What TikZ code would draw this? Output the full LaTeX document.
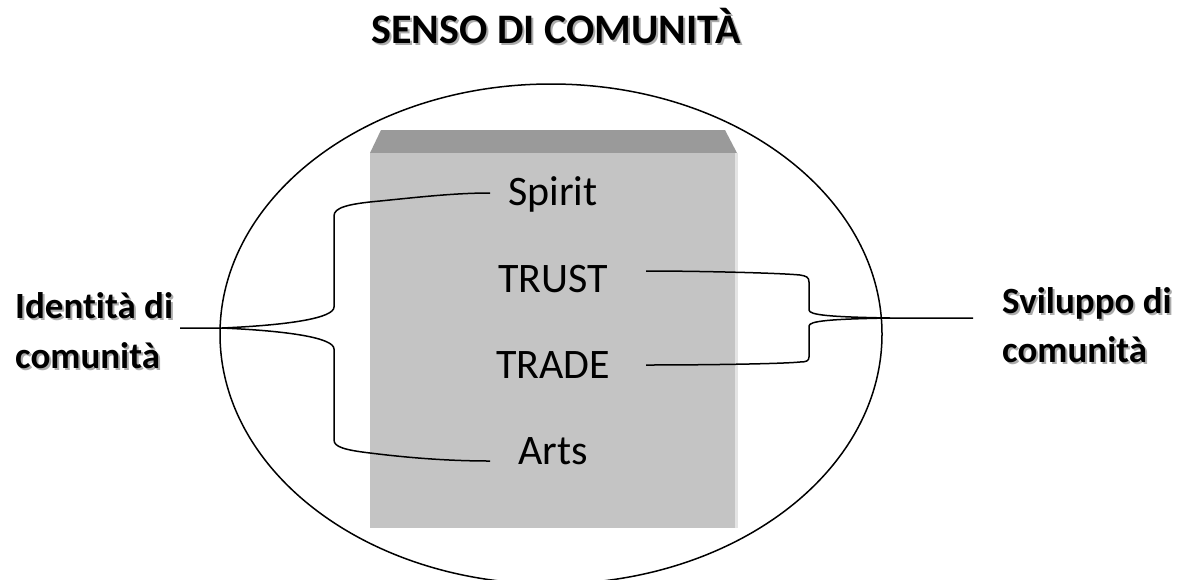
\documentclass[tikz,border=0pt]{standalone}
\usepackage{fontspec}
\setmainfont{Carlito}[Ligatures=NoCommon]
\definecolor{boxfill}{HTML}{C4C4C4}
\definecolor{boxtop}{HTML}{9A9A9A}
\definecolor{boxedge}{HTML}{E4E4E4}
\definecolor{shadowgray}{HTML}{ABABAB}
\begin{document}
\begin{tikzpicture}[x=1pt,y=-1pt,
  item/.style={font=\fontsize{42}{50}\selectfont, inner sep=0pt, anchor=base},
  side/.style={font=\bfseries\fontsize{37}{44}\selectfont, inner sep=0pt, anchor=base west},
  headline/.style={font=\bfseries\fontsize{42}{50}\selectfont, inner sep=0pt, anchor=base},
  shade/.style={text=shadowgray},
  brace/.style={draw=black, line width=1.5pt, line join=round},
  outline/.style={draw=black, line width=1.5pt}]
\useasboundingbox (0,0) rectangle (1180,579);
\fill[white] (0,0) rectangle (1180,579);
% box
\fill[boxtop] (381,130) -- (725,130) -- (737,153) -- (370,153) -- cycle;
\fill[boxfill] (370,153) rectangle (735,528);
\fill[boxedge] (735,153) rectangle (738,528);
% ellipse
\draw[outline] (551,334) ellipse [x radius=331pt, y radius=250pt];
% title
\node[headline, shade] at (558,45) {SENSO DI COMUNITÀ};
\node[headline] (title) at (556,43) {SENSO DI COMUNITÀ};
% items
\node[item] (spirit) at (553,205) {Spirit};
\node[item] (trust) at (553,292) {TRUST};
\node[item] (trade) at (553,378) {TRADE};
\node[item] (arts) at (553,464) {Arts};
% side labels
\node[side, shade] at (17,320) {Identità di};
\node[side] (id1) at (15,318) {Identità di};
\node[side, shade] at (17,370) {comunità};
\node[side] (id2) at (15,368) {comunità};
\node[side, shade] at (1004,315) {Sviluppo di};
\node[side] (sv1) at (1002,313) {Sviluppo di};
\node[side, shade] at (1004,364) {comunità};
\node[side] (sv2) at (1002,362) {comunità};
% connector ends
\coordinate (lfree) at (180,328);
\coordinate (ltip) at (222,328);
\coordinate (spiritL) at (490,193);
\coordinate (artsL) at (490,461);
\coordinate (trustR) at (646,271);
\coordinate (tradeR) at (646,365);
\coordinate (rtip) at (890,318);
\coordinate (rfree) at (973,318);
% left brace
\draw[brace] (lfree) -- (ltip)
  .. controls (290,325) and (334,318) .. (334,307) -- (334,216)
  .. controls (334,208) and (346,204) .. (380,201)
  .. controls (420,197) and (455,193) .. (spiritL);
\draw[brace] (ltip)
  .. controls (290,331) and (334,338) .. (334,349) -- (334,440)
  .. controls (334,447) and (345,450) .. (370,453)
  .. controls (410,458) and (450,461) .. (artsL);
% right brace
\draw[brace] (trustR) .. controls (700,271) and (780,273) .. (800,275)
  .. controls (806,276) and (809,277) .. (809,282) -- (809,310)
  .. controls (809,315) and (830,317) .. (rtip) -- (rfree);
\draw[brace] (rtip) .. controls (830,319) and (809,321) .. (809,326) -- (809,357)
  .. controls (809,361) and (806,362) .. (800,362)
  .. controls (780,364) and (700,365) .. (tradeR);
\end{tikzpicture}
\end{document}
